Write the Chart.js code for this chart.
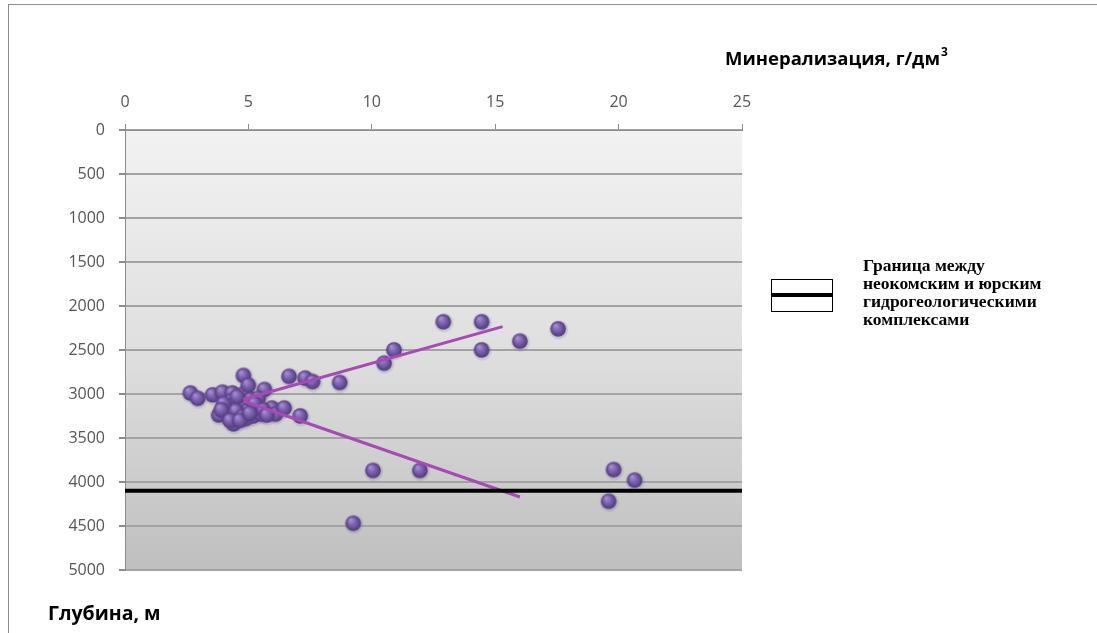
<!DOCTYPE html>
<html>
<head>
<meta charset="utf-8">
<script src="https://cdn.jsdelivr.net/npm/chart.js@4.4.1/dist/chart.umd.min.js"></script>
<style>
  html, body { margin: 0; padding: 0; background: #fff; }
  #wrap { position: relative; width: 1097px; height: 633px; overflow: hidden; background: #fff; }
  #frame { position: absolute; left: 8px; top: 4px; width: 1300px; height: 900px;
           border: 1px solid #8c8c8c; box-sizing: border-box; }
  #c { position: absolute; left: 0; top: 0; }
</style>
</head>
<body>
<div id="wrap">
  <div id="frame"></div>
  <canvas id="c" width="1097" height="633"></canvas>
</div>
<script>
// Axis ticks
const xTicks = [0, 5, 10, 15, 20, 25];
const yTicks = [0, 500, 1000, 1500, 2000, 2500, 3000, 3500, 4000, 4500, 5000];

// Samples: mineralization (g/dm3) and depth (m)
const mineralization = [
  2.65, 2.95, 3.55, 3.95, 4.35, 3.8, 4.1, 4.4, 4.3, 4.6,
  4.7, 4.8, 4.85, 4.9, 5.0, 5.1, 5.2, 5.35, 5.55, 5.65,
  5.8, 5.95, 6.1, 6.45, 7.1, 4.55, 5.0, 4.2, 5.4,
  4.0, 4.5, 4.75, 5.25, 5.6, 3.9, 4.25, 4.65, 5.05, 5.75,
  6.65, 7.3, 7.6, 8.7, 10.5, 10.9, 12.9, 14.45, 14.45, 16.0, 17.55,
  10.05, 11.95, 9.25, 19.6, 19.8, 20.65
];
const depth = [
  2990, 3050, 3010, 2980, 2990, 3240, 3170, 3340, 3080, 3230,
  3130, 2790, 2990, 3280, 3180, 3060, 3250, 3150, 3230, 2950,
  3200, 3160, 3230, 3160, 3250, 3030, 2900, 3250, 3050,
  3110, 3190, 3260, 3110, 3180, 3180, 3300, 3300, 3220, 3240,
  2800, 2820, 2860, 2870, 2650, 2500, 2180, 2180, 2500, 2400, 2260,
  3870, 3870, 4470, 4220, 3860, 3980
];

// Trend lines (two branches) and the aquifer-complex boundary
const upperTrendX = [4.8, 15.3];
const upperTrendY = [3060, 2235];
const lowerTrendX = [4.8, 16.0];
const lowerTrendY = [3080, 4170];
const boundaryX = [0, 25];
const boundaryY = [4100, 4100];

const xTitle = 'Минерализация, г/дм';
const xTitleSup = '3';
const yTitle = 'Глубина, м';
const legendLines = ['Граница между', 'неокомским и юрским', 'гидрогеологическими', 'комплексами'];

const toPoints = (xs, ys) => xs.map((x, i) => ({ x: x, y: ys[i] }));

// Shaded sphere marker
function makeSphere(r) {
  const size = Math.ceil(r * 2 + 6);
  const cv = document.createElement('canvas');
  cv.width = size; cv.height = size;
  const g = cv.getContext('2d');
  const c = size / 2;
  g.fillStyle = 'rgba(110,90,150,0.18)';
  g.beginPath(); g.arc(c + 0.5, c + 0.8, r + 1.8, 0, Math.PI * 2); g.fill();
  const grad = g.createRadialGradient(c - r * 0.35, c - r * 0.45, 0.5, c, c, r);
  grad.addColorStop(0, '#a591d2');
  grad.addColorStop(0.45, '#7f63b0');
  grad.addColorStop(1, '#50397a');
  g.fillStyle = grad;
  g.beginPath(); g.arc(c, c, r, 0, Math.PI * 2); g.fill();
  return cv;
}
const sphere = makeSphere(7.8);

const bgPlugin = {
  id: 'plotBackground',
  beforeDraw(chart) {
    const { ctx, chartArea: a } = chart;
    const grad = ctx.createLinearGradient(0, a.top, 0, a.bottom);
    grad.addColorStop(0, '#f2f2f2');
    grad.addColorStop(0.5, '#dfdfdf');
    grad.addColorStop(1, '#bfbfbf');
    ctx.save();
    ctx.fillStyle = grad;
    ctx.fillRect(a.left, a.top, a.right - a.left, a.bottom - a.top);
    ctx.restore();
  }
};

const textPlugin = {
  id: 'titlesAndLegend',
  afterDraw(chart) {
    const ctx = chart.ctx;
    ctx.save();
    ctx.fillStyle = '#000';
    ctx.textBaseline = 'alphabetic';
    ctx.textAlign = 'left';
    // x axis title with superscript
    ctx.font = 'bold 18.5px "Open Sans"';
    ctx.fillText(xTitle, 725, 65);
    const w = ctx.measureText(xTitle).width;
    ctx.font = 'bold 12px "Open Sans"';
    ctx.fillText(xTitleSup, 725 + w + 1, 56);
    // y axis title
    ctx.font = 'bold 19.5px "Open Sans"';
    ctx.fillText(yTitle, 48, 620);
    // legend key
    ctx.fillStyle = '#fff';
    ctx.fillRect(771, 279, 62, 32);
    ctx.strokeStyle = '#000';
    ctx.lineWidth = 1;
    ctx.strokeRect(771.5, 279.5, 61, 32);
    ctx.fillStyle = '#000';
    ctx.fillRect(771, 293, 62, 4);
    // legend text
    ctx.font = 'bold 17.5px "Liberation Serif"';
    legendLines.forEach((t, i) => ctx.fillText(t, 863, 271 + i * 18));
    ctx.restore();
  }
};

new Chart(document.getElementById('c'), {
  type: 'scatter',
  data: {
    datasets: [
      {
        label: 'samples',
        data: toPoints(mineralization, depth),
        pointStyle: sphere,
        pointRadius: 8,
        order: 3
      },
      {
        label: 'trend-upper',
        data: toPoints(upperTrendX, upperTrendY),
        showLine: true,
        borderColor: '#a64ab4',
        borderWidth: 3,
        pointRadius: 0,
        order: 2
      },
      {
        label: 'trend-lower',
        data: toPoints(lowerTrendX, lowerTrendY),
        showLine: true,
        borderColor: '#a64ab4',
        borderWidth: 3,
        pointRadius: 0,
        order: 2
      },
      {
        label: 'boundary',
        data: toPoints(boundaryX, boundaryY),
        showLine: true,
        borderColor: '#000',
        borderWidth: 4,
        pointRadius: 0,
        order: 1
      }
    ]
  },
  options: {
    responsive: false,
    animation: false,
    devicePixelRatio: 1,
    layout: { padding: { left: 0, top: 0, right: 355, bottom: 63 } },
    plugins: { legend: { display: false }, tooltip: { enabled: false } },
    scales: {
      x: {
        type: 'linear',
        position: 'top',
        min: 0, max: 25,
        afterBuildTicks: s => { s.ticks = xTicks.map(v => ({ value: v })); },
        afterFit: s => { s.height = 130; },
        grid: { drawOnChartArea: false, drawTicks: true, tickLength: 6, color: '#8c8c8c' },
        border: { display: true, color: '#8c8c8c', width: 1 },
        ticks: { color: '#555', font: { family: 'Open Sans', size: 16 }, padding: 12,
                 callback: v => String(v) }
      },
      y: {
        type: 'linear',
        reverse: true,
        min: 0, max: 5000,
        afterBuildTicks: s => { s.ticks = yTicks.map(v => ({ value: v })); },
        afterFit: s => { s.width = 125; },
        grid: { color: '#a3a3a3', lineWidth: 2, tickLength: 6, tickColor: '#8c8c8c' },
        border: { display: true, color: '#8c8c8c', width: 1 },
        ticks: { color: '#555', font: { family: 'Open Sans', size: 16 }, padding: 14,
                 callback: v => String(v) }
      }
    }
  },
  plugins: [bgPlugin, textPlugin]
});
</script>
</body>
</html>
